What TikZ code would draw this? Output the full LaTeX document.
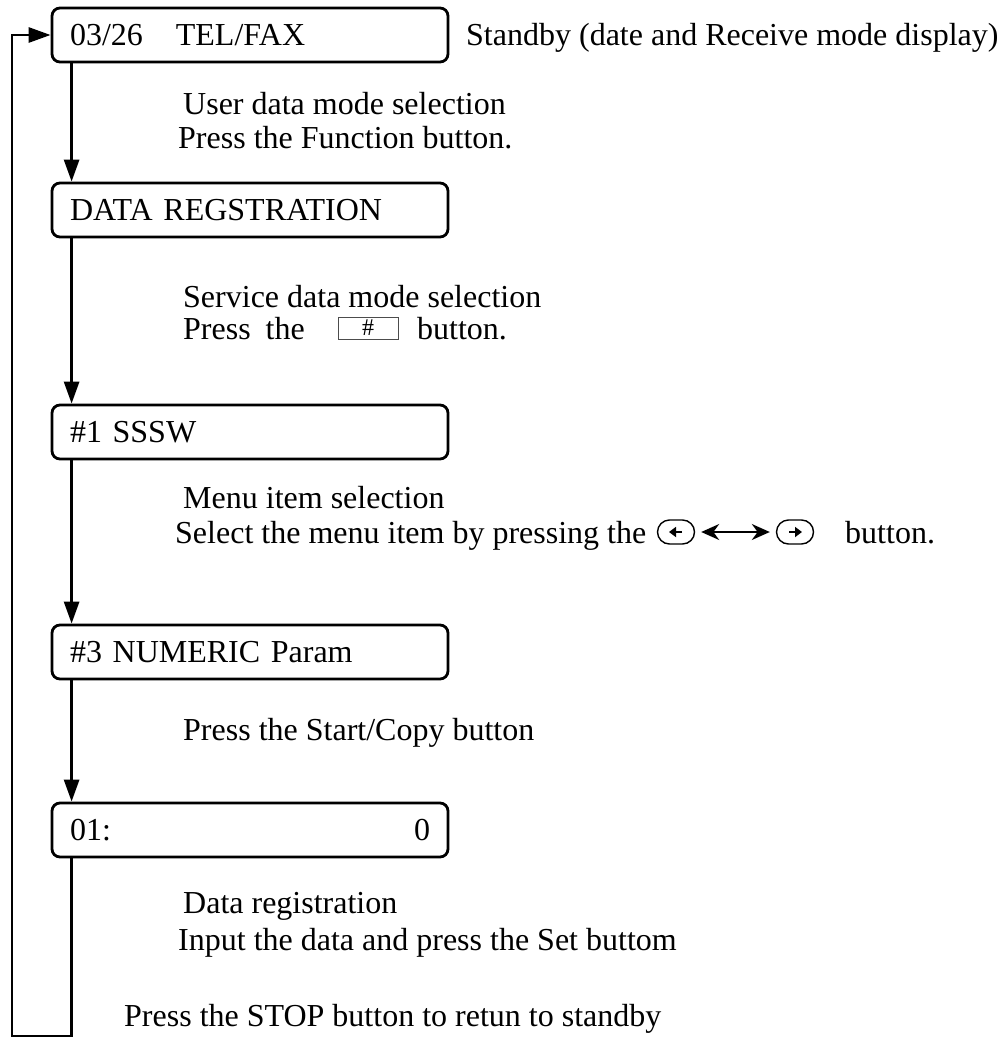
\documentclass[tikz,border=0pt]{standalone}
\usepackage{fontspec}
\setmainfont{Liberation Serif}
\usetikzlibrary{arrows.meta,positioning}

\tikzset{
  lcd/.style={draw, rounded corners=8pt, line width=2.8pt, minimum width=396pt,
    minimum height=54pt, text width=360pt, inner xsep=18pt, align=left},
  note/.style={anchor=base west, inner sep=0pt},
  flow/.style={line width=2.8pt, -{Triangle[length=22pt,width=15pt]}},
  pill/.style={draw, line width=1.4pt, rounded corners=12pt, minimum width=37pt,
    minimum height=24pt, inner sep=0pt},
  keyarrow/.style={line width=2.4pt, -{Triangle[length=7pt,width=10pt]}},
  swap/.style={line width=1.8pt, {Stealth[length=18pt,width=16pt]}-{Stealth[length=18pt,width=16pt]}},
  hashkey/.style={draw=black!70, line width=1pt, minimum width=60pt, minimum height=22pt,
    inner sep=0pt, font=\fontsize{24pt}{24pt}\selectfont}
}

\begin{document}
\begin{tikzpicture}[x=1pt, y=-1pt, font=\fontsize{32pt}{38pt}\selectfont]
    \useasboundingbox (0,0) rectangle (1005,1038);

    \node[lcd] (standby) at (250,35) {03/26\hspace{33pt}TEL/FAX};
    \node[lcd] (datareg) at (250,210) {DATA REGSTRATION};
    \node[lcd] (sssw) at (250,432) {\#1 SSSW};
    \node[lcd] (numeric) at (250,652) {\#3 NUMERIC Param};
    \node[lcd] (entry) at (250,830) {01:\hfill 0};

    \node[note] (standbytxt) at (466,46) {Standby (date and Receive mode display)};

    \node[note] (usersel) at (183,114) {User data mode selection};
    \node[note] (userkey) at (178,149) {Press the Function button.};

    \node[note] (svcsel) at (183,307) {Service data mode selection};
    \node[note] (svckey) at (183,339) {Press\hspace{15pt}the};
    \node[hashkey] (hashbtn) at (368,328) {\raisebox{-5pt}{\#}};
    \node[note] (svcbtn) at (417,339) {button.};

    \node[note] (menusel) at (183,508) {Menu item selection};
    \node[note] (menukey) at (175,543) {Select the menu item by pressing the};
    \node[pill] (leftkey) at (676,532) {};
    \node[pill] (rightkey) at (795,532) {};
    \node[note] (menubtn) at (845,543) {button.};
    \draw[keyarrow] ([xshift=6pt]leftkey.center) -- ([xshift=-7pt]leftkey.center);
    \draw[keyarrow] ([xshift=-6pt]rightkey.center) -- ([xshift=7pt]rightkey.center);
    \draw[swap] ([xshift=6pt]leftkey.east) -- ([xshift=-6pt]rightkey.west);

    \node[note] (startkey) at (183,740) {Press the Start/Copy button};

    \node[note] (datasel) at (183,913) {Data registration};
    \node[note] (datakey) at (178,950) {Input the data and press the Set buttom};

    \node[note] (stopkey) at (124,1026) {Press the STOP button to retun to standby};

    \draw[flow] ([xshift=21pt]standby.south west) -- ([xshift=21pt]datareg.north west);
    \draw[flow] ([xshift=21pt]datareg.south west) -- ([xshift=21pt]sssw.north west);
    \draw[flow] ([xshift=21pt]sssw.south west) -- ([xshift=21pt]numeric.north west);
    \draw[flow] ([xshift=21pt]numeric.south west) -- ([xshift=21pt]entry.north west);

    \coordinate (loopcorner) at (12,1036);
    \draw[flow] ([xshift=21pt]entry.south west) |- (loopcorner) |- (standby.west);
\end{tikzpicture}
\end{document}
